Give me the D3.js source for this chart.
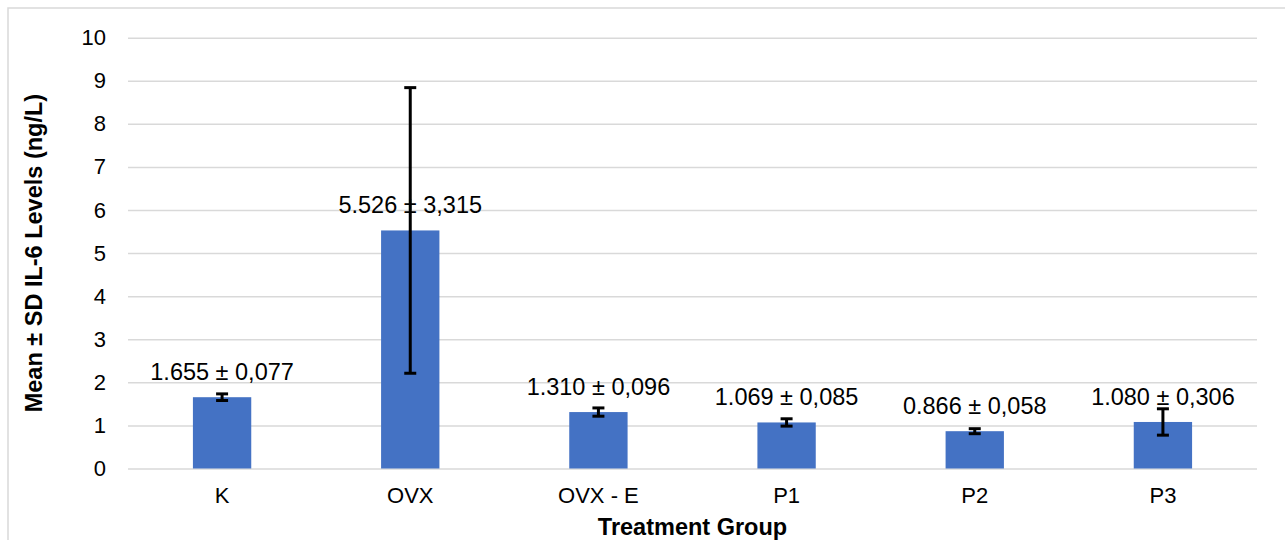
<!DOCTYPE html>
<html>
<head>
<meta charset="utf-8">
<script src="https://cdn.jsdelivr.net/npm/d3@7"></script>
<style>
  body { margin: 0; background: #fff; }
  svg { display: block; font-family: Arial, "Liberation Sans", sans-serif; }
</style>
</head>
<body>
<div id="container"></div>
<script>
const width = 1285;
const height = 540;

const groups = ['K', 'OVX', 'OVX - E', 'P1', 'P2', 'P3'];
const means = [1.655, 5.526, 1.310, 1.069, 0.866, 1.080];
const sds = [0.077, 3.315, 0.096, 0.085, 0.058, 0.306];
const labels = ['1.655 ± 0,077', '5.526 ± 3,315', '1.310 ± 0,096', '1.069 ± 0,085', '0.866 ± 0,058', '1.080 ± 0,306'];
const yTicks = [0, 1, 2, 3, 4, 5, 6, 7, 8, 9, 10];

const plot = { left: 128, right: 1257, top: 37.7, bottom: 468.5 };

const svg = d3.select('#container')
    .append('svg')
    .attr('width', width)
    .attr('height', height);

// chart border
svg.append('rect')
    .attr('x', 8).attr('y', 8)
    .attr('width', width).attr('height', height)
    .attr('fill', 'none')
    .attr('stroke', '#d9d9d9')
    .attr('stroke-width', 1.5);

const xScale = d3.scaleBand()
    .domain(groups)
    .range([plot.left, plot.right])
    .paddingInner(0.69)
    .paddingOuter(0.345);
const xBand = d3.scaleBand().domain(groups).range([plot.left, plot.right]);

const yScale = d3.scaleLinear()
    .domain([0, 10])
    .range([plot.bottom, plot.top]);

// gridlines + y labels
const yAxis = d3.axisLeft(yScale)
    .tickValues(yTicks)
    .tickSize(-(plot.right - plot.left))
    .tickPadding(22)
    .tickFormat(d3.format('d'));

svg.append('g')
    .attr('transform', 'translate(' + plot.left + ',0)')
    .call(yAxis)
    .call(g => g.select('.domain').remove())
    .call(g => g.selectAll('line').attr('stroke', '#d9d9d9').attr('stroke-width', 1.5))
    .call(g => g.selectAll('text').attr('fill', '#000').style('font-size', '22px').attr('font-family', null));

// bars
svg.selectAll('rect.bar')
    .data(groups)
    .enter()
    .append('rect')
    .attr('class', 'bar')
    .attr('x', d => xScale(d))
    .attr('width', xScale.bandwidth())
    .attr('y', (d, i) => yScale(means[i]))
    .attr('height', (d, i) => yScale(0) - yScale(means[i]))
    .attr('fill', '#4472c4');

// error bars
const err = svg.append('g').attr('stroke', '#000').attr('stroke-width', 3);
groups.forEach((g, i) => {
    const cx = xBand(g) + xBand.bandwidth() / 2;
    const hi = yScale(means[i] + sds[i]);
    const lo = yScale(means[i] - sds[i]);
    err.append('line').attr('x1', cx).attr('x2', cx).attr('y1', hi).attr('y2', lo);
    err.append('line').attr('x1', cx - 6).attr('x2', cx + 6).attr('y1', hi).attr('y2', hi);
    err.append('line').attr('x1', cx - 6).attr('x2', cx + 6).attr('y1', lo).attr('y2', lo);
});

// data labels
svg.selectAll('text.lbl')
    .data(groups)
    .enter()
    .append('text')
    .attr('class', 'lbl')
    .attr('x', d => xBand(d) + xBand.bandwidth() / 2)
    .attr('y', (d, i) => yScale(means[i]) - 17)
    .attr('text-anchor', 'middle')
    .style('font-size', '23.5px')
    .text((d, i) => labels[i]);

// x axis labels
const xAxis = d3.axisBottom(xBand).tickSize(0).tickPadding(19);
svg.append('g')
    .attr('transform', 'translate(0,' + plot.bottom + ')')
    .call(xAxis)
    .call(g => g.select('.domain').remove())
    .call(g => g.selectAll('text').attr('fill', '#000').style('font-size', '22px').attr('font-family', null));

// axis titles
svg.append('text')
    .attr('x', (plot.left + plot.right) / 2)
    .attr('y', 535)
    .attr('text-anchor', 'middle')
    .style('font-size', '23.5px')
    .style('font-weight', 'bold')
    .text('Treatment Group');

svg.append('text')
    .attr('transform', 'translate(42,' + (plot.top + plot.bottom) / 2 + ') rotate(-90)')
    .attr('text-anchor', 'middle')
    .style('font-size', '23.5px')
    .style('font-weight', 'bold')
    .text('Mean ± SD IL-6 Levels (ng/L)');
</script>
</body>
</html>
